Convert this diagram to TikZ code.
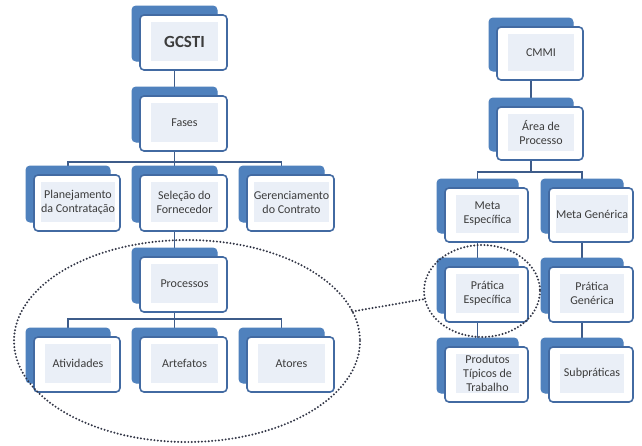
\documentclass[tikz,border=0pt]{standalone}
\usepackage{fontspec}
\setmainfont{Carlito}
\usetikzlibrary{backgrounds,calc}
\definecolor{backblue}{RGB}{79,129,189}
\definecolor{edgeblue}{RGB}{66,106,162}
\definecolor{innerfill}{RGB}{234,239,247}
\definecolor{linkblue}{RGB}{62,92,138}
\definecolor{txt}{RGB}{60,60,60}
\definecolor{dotgray}{RGB}{50,54,70}
\tikzset{
  backbox/.style={draw=backblue, fill=backblue, rounded corners=4pt, line width=1pt, inner sep=0pt},
  frontbox/.style={draw=edgeblue, fill=white, rounded corners=4pt, line width=1.6pt, inner sep=0pt},
  innerbox/.style={fill=innerfill, inner sep=0pt, align=center, text=txt, font=\fontsize{12}{14}\selectfont},
  link/.style={draw=linkblue, line width=1.6pt},
  dotline/.style={draw=dotgray, line width=2.2pt, line cap=round, dash pattern=on 0pt off 3.4pt}
}
% \orgnode{name}{left}{top}{right}{bottom}{text}: framed box with a shadow tab behind it
\newcommand\orgnode[6]{%
  \node[backbox, minimum width={#4-#2-2}, minimum height={#5-#3}] (#1-b) at ({(#2+#4)/2-9},{(#3+#5)/2-9}) {};
  \node[frontbox, minimum width={#4-#2}, minimum height={#5-#3}] (#1) at ({(#2+#4)/2},{(#3+#5)/2}) {};
  \node[innerbox, minimum width={#4-#2-20}, minimum height={#5-#3-16}] (#1-t) at ({(#2+#4)/2+1},{(#3+#5)/2-1}) {#6};
}
\begin{document}
\begin{tikzpicture}[x=1pt,y=-1pt]
\useasboundingbox (0,0) rectangle (642,445);

% left hierarchy
\orgnode{gcsti}{140}{15}{227}{70}{\fontsize{17}{19}\selectfont\bfseries GCSTI}
\orgnode{fases}{140}{96}{227}{151}{Fases}
\orgnode{plan}{34}{175}{120}{231}{Planejamento\\da Contratação}
\orgnode{sel}{140}{175}{227}{231}{Seleção do\\Fornecedor}
\orgnode{ger}{247}{175}{334}{231}{Gerenciamento\\do Contrato}
\orgnode{proc}{140}{257}{227}{312}{Processos}
\orgnode{ativ}{34}{337}{120}{392}{Atividades}
\orgnode{arte}{140}{337}{227}{392}{Artefatos}
\orgnode{ator}{247}{337}{334}{392}{Atores}

% right hierarchy
\orgnode{cmmi}{497}{27}{583}{80}{CMMI}
\orgnode{area}{497}{107}{583}{160}{Área de\\Processo}
\orgnode{mesp}{445}{188}{528}{242}{Meta\\Específica}
\orgnode{mgen}{549}{188}{633}{242}{Meta Genérica}
\orgnode{pesp}{445}{267}{528}{322}{Prática\\Específica}
\orgnode{pgen}{549}{267}{633}{322}{Prática\\Genérica}
\orgnode{prod}{445}{347}{528}{402}{Produtos\\Típicos de\\Trabalho}
\orgnode{subp}{549}{347}{633}{402}{Subpráticas}

% bus heights
\coordinate (busA) at (0,162);
\coordinate (busB) at (0,319);
\coordinate (busC) at (0,172);

\begin{pgfonlayer}{background}
  \fill[white] (0,0) rectangle (642,445);
  \draw[link] (gcsti-b.center) -- (fases-b.center);
  \draw[link] (fases-b.center) -- (sel-b.center);
  \draw[link] (plan-b.center) |- (ger-b.center |- busA) -- (ger-b.center);
  \draw[link] (sel-b.center) -- (proc-b.center);
  \draw[link] (proc-b.center) -- (arte-b.center);
  \draw[link] (ativ-b.center) |- (ator-b.center |- busB) -- (ator-b.center);
  \draw[link] (cmmi-b.center) -- (area-b.center);
  \draw[link] (mesp-b.center) |- (mgen-b.center |- busC) -- (mgen-b.center);
  \draw[link] (area-b.center) -- (area-b.center |- busC);
  \draw[link] (mesp-b.center) -- (pesp-b.center) -- (prod-b.center);
  \draw[link] (mgen-b.center) -- (pgen-b.center) -- (subp-b.center);
\end{pgfonlayer}

% dotted groupings and their link
\coordinate (bigc) at (187,341);
\coordinate (smallc) at (482,291);
\draw[dotline] (bigc) ellipse [x radius=173, y radius=101];
\draw[dotline] (smallc) ellipse [x radius=58, y radius=46];
\coordinate (bigend) at ($(bigc)+(-17:173 and 101)$);
\coordinate (smallend) at ($(smallc)+(170:58 and 46)$);
\draw[dotline] (bigend) -- (smallend);
\end{tikzpicture}
\end{document}
